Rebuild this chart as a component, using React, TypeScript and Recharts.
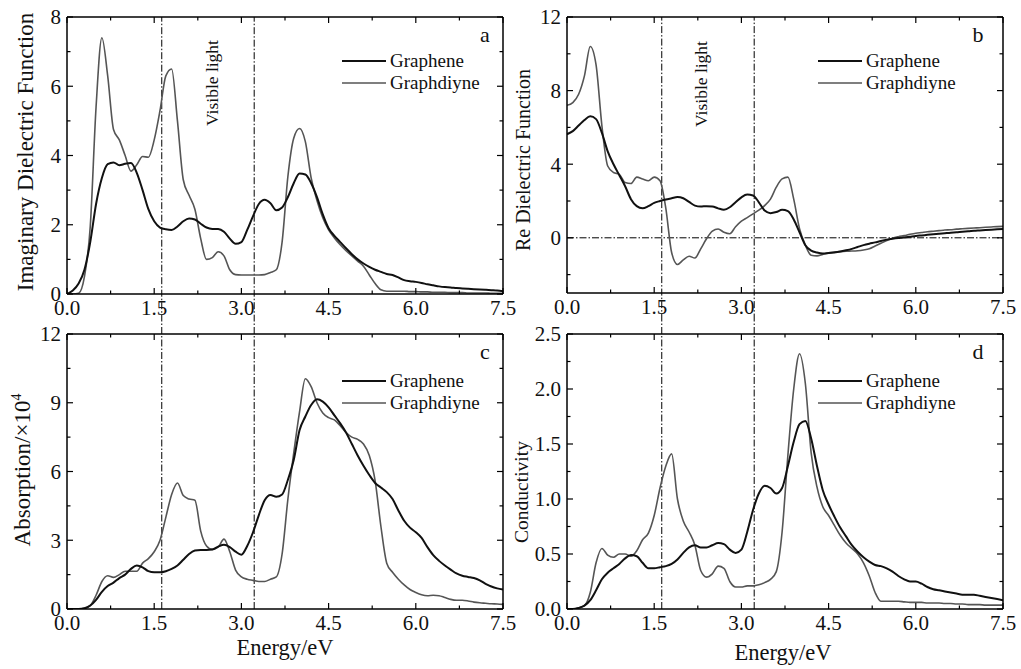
import { LineChart, Line, XAxis, YAxis, ReferenceLine } from "recharts";

const energy = [
  0, 0.1, 0.2, 0.3, 0.4, 0.5, 0.6, 0.7, 0.8, 0.9,
  1, 1.1, 1.2, 1.3, 1.4, 1.5, 1.6, 1.7, 1.8, 1.9,
  2, 2.1, 2.2, 2.3, 2.4, 2.5, 2.6, 2.7, 2.8, 2.9,
  3, 3.1, 3.2, 3.3, 3.4, 3.5, 3.6, 3.7, 3.8, 3.9,
  4, 4.1, 4.2, 4.3, 4.4, 4.5, 4.6, 4.7, 4.8, 4.9,
  5, 5.1, 5.2, 5.3, 5.4, 5.5, 5.6, 5.7, 5.8, 5.9,
  6, 6.1, 6.2, 6.3, 6.4, 6.5, 6.6, 6.7, 6.8, 6.9,
  7, 7.1, 7.2, 7.3, 7.4, 7.5,
];

// a: imaginary part of dielectric function
const imagGraphene = [
  0, 0.1, 0.3, 0.7, 1.5, 2.6, 3.35, 3.75, 3.8, 3.72,
  3.76, 3.78, 3.5, 3.0, 2.45, 2.1, 1.92, 1.87, 1.85, 1.95,
  2.1, 2.18, 2.15, 2.03, 1.92, 1.88, 1.88, 1.8, 1.6, 1.45,
  1.5, 1.85, 2.25, 2.6, 2.72, 2.62, 2.42, 2.5, 2.8, 3.2,
  3.48, 3.45, 3.2, 2.8, 2.3, 1.9, 1.68, 1.5, 1.32, 1.15,
  1.0, 0.88, 0.78, 0.7, 0.64, 0.58, 0.55, 0.48, 0.4, 0.37,
  0.35, 0.32, 0.28, 0.25, 0.22, 0.2, 0.19, 0.17, 0.16, 0.15,
  0.14, 0.13, 0.12, 0.11, 0.1, 0.08,
];
const imagGraphdiyne = [
  0, 0, 0.02, 0.5, 1.95, 5.4, 7.4, 6.3, 4.75, 4.45,
  4.0, 3.55, 3.73, 3.97, 3.95, 4.45, 5.3, 6.3, 6.5, 5.0,
  3.3, 2.85, 2.45, 1.6, 1.0, 1.05, 1.22, 1.1, 0.7, 0.56,
  0.55, 0.55, 0.55, 0.55, 0.56, 0.62, 0.7, 1.5, 3.4, 4.5,
  4.78, 4.4, 3.35, 2.7, 2.2, 1.85, 1.62, 1.42, 1.25, 1.1,
  0.95, 0.8, 0.55, 0.3, 0.12, 0.08, 0.08, 0.08, 0.08, 0.07,
  0.07, 0.06, 0.06, 0.05, 0.05, 0.05, 0.04, 0.04, 0.04, 0.03,
  0.03, 0.03, 0.03, 0.02, 0.02, 0.02,
];

// b: real part of dielectric function
const reGraphene = [
  5.63, 5.8, 6.1, 6.4, 6.6, 6.45, 5.7, 4.7, 4.0, 3.4,
  2.8, 2.1, 1.72, 1.6, 1.72, 1.9, 2.0, 2.08, 2.15, 2.22,
  2.15, 1.95, 1.75, 1.7, 1.72, 1.7, 1.6, 1.53, 1.66, 1.93,
  2.2, 2.35, 2.3, 1.93, 1.48, 1.34, 1.4, 1.52, 1.45, 1.0,
  0.3, -0.4, -0.7, -0.8, -0.85, -0.83, -0.8, -0.75, -0.68, -0.6,
  -0.5, -0.4, -0.32, -0.25, -0.17, -0.1, -0.05, -0.01, 0.02, 0.06,
  0.1, 0.13, 0.16, 0.19, 0.22, 0.25, 0.28, 0.3, 0.33, 0.35,
  0.38, 0.4, 0.42, 0.44, 0.46, 0.48,
];
const reGraphdiyne = [
  7.2, 7.35, 7.8, 8.8, 10.4, 9.4, 6.1, 3.9, 3.55, 3.45,
  3.0, 2.95, 3.3, 3.2, 3.1, 3.3, 3.1, 1.6, -0.8, -1.45,
  -1.2, -1.0, -1.1, -0.6, -0.05, 0.36, 0.48, 0.3, 0.22, 0.6,
  0.9, 1.1, 1.3, 1.5, 1.75, 2.1, 2.75, 3.2, 3.3, 2.1,
  0.5, -0.4, -0.95, -0.98, -0.9, -0.82, -0.78, -0.75, -0.73, -0.72,
  -0.7, -0.66, -0.6, -0.45, -0.3, -0.15, -0.02, 0.06, 0.12, 0.19,
  0.25, 0.29, 0.33, 0.36, 0.39, 0.42, 0.44, 0.47, 0.49, 0.51,
  0.53, 0.55, 0.57, 0.59, 0.61, 0.62,
];

// c: absorption (x10^4)
const absGraphene = [
  0, 0, 0, 0.03, 0.15, 0.4, 0.75, 1.0, 1.15, 1.35,
  1.5, 1.75, 1.9, 1.82, 1.65, 1.6, 1.6, 1.65, 1.75, 1.9,
  2.15, 2.4, 2.55, 2.58, 2.58, 2.6, 2.72, 2.8, 2.7, 2.5,
  2.37, 2.75, 3.35, 4.1, 4.75, 4.98, 4.9, 5.0, 5.64, 6.5,
  7.8, 8.4, 8.9, 9.15, 9.05, 8.8, 8.45, 8.1, 7.7, 7.2,
  6.7, 6.25, 5.85, 5.5, 5.3, 5.1, 4.8, 4.3, 3.85, 3.55,
  3.35, 3.1, 2.7, 2.35, 2.1, 1.9, 1.72, 1.55, 1.45, 1.4,
  1.35, 1.25, 1.1, 0.98, 0.9, 0.85,
];
const absGraphdiyne = [
  0, 0, 0, 0.03, 0.15, 0.6, 1.2, 1.45, 1.38, 1.5,
  1.65, 1.65, 1.65, 2.0, 2.2, 2.5, 3.0, 4.0, 5.0, 5.5,
  4.95, 4.8, 4.75, 3.4, 2.75, 2.6, 2.7, 3.05, 2.5, 1.7,
  1.4, 1.3, 1.25, 1.2, 1.2, 1.3, 1.4, 2.4, 4.8, 6.8,
  8.6, 10.05, 9.7, 9.0, 8.55, 8.35, 8.25, 8.0, 7.7, 7.5,
  7.4, 7.2, 6.7, 5.6, 3.6, 2.0, 1.6, 1.3, 1.05, 0.85,
  0.72, 0.62, 0.58, 0.6, 0.58, 0.5, 0.42, 0.38, 0.38, 0.35,
  0.3, 0.27, 0.25, 0.23, 0.22, 0.2,
];

// d: conductivity
const condGraphene = [
  0, 0, 0.01, 0.03, 0.08, 0.17, 0.27, 0.33, 0.37, 0.41,
  0.46, 0.49, 0.48, 0.42, 0.37, 0.37, 0.38, 0.39, 0.41, 0.45,
  0.51, 0.56, 0.58, 0.56, 0.56, 0.58, 0.6, 0.59, 0.54, 0.51,
  0.54, 0.7, 0.9, 1.05, 1.12, 1.1, 1.05, 1.1, 1.3, 1.52,
  1.68, 1.71, 1.55, 1.3, 1.08, 0.95, 0.84, 0.74, 0.66, 0.58,
  0.52, 0.47, 0.43, 0.4, 0.39, 0.37, 0.34, 0.3, 0.27, 0.25,
  0.25, 0.23, 0.2, 0.18, 0.17, 0.16, 0.15, 0.14, 0.13, 0.13,
  0.13, 0.12, 0.11, 0.1, 0.09, 0.08,
];
const condGraphdiyne = [
  0, 0, 0.01, 0.03, 0.15, 0.42, 0.55, 0.49, 0.47, 0.5,
  0.5, 0.48, 0.53, 0.63, 0.69, 0.85, 1.1, 1.3, 1.41, 1.0,
  0.8, 0.7, 0.58, 0.35, 0.29, 0.32, 0.39, 0.37, 0.25, 0.2,
  0.2, 0.21, 0.21, 0.22, 0.24, 0.27, 0.34, 0.7, 1.4, 2.0,
  2.32, 2.05, 1.42, 1.11, 0.93, 0.85, 0.76, 0.67, 0.6, 0.55,
  0.5, 0.42, 0.3, 0.15, 0.07, 0.07, 0.07, 0.07, 0.065, 0.06,
  0.06, 0.06, 0.055, 0.055, 0.055, 0.05, 0.05, 0.045, 0.045, 0.04,
  0.04, 0.04, 0.035, 0.035, 0.035, 0.035,
];

const xMajor = [0, 1.5, 3, 4.5, 6, 7.5];
const xMinor = [0.75, 2.25, 3.75, 5.25, 6.75];
const visibleLight = [1.63, 3.22];

const FONT = "Liberation Serif, Times New Roman, Times, serif";
const DASH_DOT = "7 2 1.5 2";

type Side = "bottom" | "top" | "left" | "right";

function makeTick(side: Side, majors: number[], fmt?: (v: number) => string) {
  return (props: any) => {
    const { x, y, payload } = props;
    const v = payload.value as number;
    const major = majors.some((m) => Math.abs(m - v) < 1e-9);
    const len = major ? 6 : 3.5;
    let line;
    if (side === "bottom") line = <line x1={x} y1={y} x2={x} y2={y - len} stroke="#000" strokeWidth={1.2} />;
    else if (side === "top") line = <line x1={x} y1={y} x2={x} y2={y + len} stroke="#000" strokeWidth={1.2} />;
    else if (side === "left") line = <line x1={x} y1={y} x2={x + len} y2={y} stroke="#000" strokeWidth={1.2} />;
    else line = <line x1={x} y1={y} x2={x - len} y2={y} stroke="#000" strokeWidth={1.2} />;
    return (
      <g>
        {line}
        {major && fmt && side === "bottom" && (
          <text x={x} y={y + 21} textAnchor="middle" fontSize={21} fontFamily={FONT} fill="#111">
            {fmt(v)}
          </text>
        )}
        {major && fmt && side === "left" && (
          <text x={x - 6} y={y} dy="0.35em" textAnchor="end" fontSize={21} fontFamily={FONT} fill="#111">
            {fmt(v)}
          </text>
        )}
      </g>
    );
  };
}

interface PanelProps {
  left: number;
  top: number;
  width: number;
  height: number;
  // plot-area insets inside the panel box
  inset: { top: number; right: number; bottom: number; left: number };
  graphene: number[];
  graphdiyne: number[];
  yDomain: [number, number];
  yMajor: number[];
  yMinor: number[];
  yFormat: (v: number) => string;
  refLow: number;
  refHigh: number;
  zeroLine?: boolean;
}

function Panel(p: PanelProps) {
  const data = energy.map((e, i) => ({ e, graphene: p.graphene[i], graphdiyne: p.graphdiyne[i] }));
  const xTicks = [...xMajor, ...xMinor].sort((a, b) => a - b);
  const yTicks = [...p.yMajor, ...p.yMinor].sort((a, b) => a - b);
  const frame = { stroke: "#000", strokeWidth: 1.5 };
  // axes are 1px thick (a zero-size axis is not drawn), so take that off the margins
  const margin = {
    top: p.inset.top - 1,
    right: p.inset.right - 1,
    bottom: p.inset.bottom - 1,
    left: p.inset.left - 1,
  };
  return (
    <div style={{ position: "absolute", left: p.left, top: p.top }}>
      <LineChart width={p.width} height={p.height} data={data} margin={margin}>
        <XAxis
          dataKey="e"
          type="number"
          domain={[0, 7.5]}
          allowDataOverflow
          ticks={xTicks}
          interval={0}
          height={1}
          tickSize={0}
          tickMargin={0}
          tickLine={false}
          axisLine={frame}
          tick={makeTick("bottom", xMajor, (v) => v.toFixed(1))}
        />
        <XAxis
          xAxisId="top"
          orientation="top"
          dataKey="e"
          type="number"
          domain={[0, 7.5]}
          allowDataOverflow
          ticks={xTicks}
          interval={0}
          height={1}
          tickSize={0}
          tickMargin={0}
          tickLine={false}
          axisLine={frame}
          tick={makeTick("top", xMajor)}
        />
        <YAxis
          type="number"
          domain={p.yDomain}
          allowDataOverflow
          ticks={yTicks}
          interval={0}
          width={1}
          tickSize={0}
          tickMargin={0}
          tickLine={false}
          axisLine={frame}
          tick={makeTick("left", p.yMajor, p.yFormat)}
        />
        <YAxis
          yAxisId="right"
          orientation="right"
          type="number"
          domain={p.yDomain}
          allowDataOverflow
          ticks={yTicks}
          interval={0}
          width={1}
          tickSize={0}
          tickMargin={0}
          tickLine={false}
          axisLine={frame}
          tick={makeTick("right", p.yMajor)}
        />
        {visibleLight.map((v) => (
          <ReferenceLine
            key={v}
            segment={[{ x: v, y: p.refLow }, { x: v, y: p.refHigh }]}
            ifOverflow="visible"
            stroke="#000"
            strokeWidth={1}
            strokeDasharray={DASH_DOT}
          />
        ))}
        {p.zeroLine && <ReferenceLine y={0} stroke="#000" strokeWidth={1} strokeDasharray={DASH_DOT} />}
        <Line
          type="monotone"
          dataKey="graphdiyne"
          stroke="#555"
          strokeWidth={1.6}
          dot={false}
          isAnimationActive={false}
        />
        <Line
          type="monotone"
          dataKey="graphene"
          stroke="#111"
          strokeWidth={2}
          dot={false}
          isAnimationActive={false}
        />
      </LineChart>
    </div>
  );
}

function Rotated({ x, y, size, children }: { x: number; y: number; size: number; children: any }) {
  return (
    <div
      style={{
        position: "absolute",
        left: x,
        top: y,
        transform: "translate(-50%, -50%) rotate(-90deg)",
        whiteSpace: "nowrap",
        fontSize: size,
        lineHeight: 1,
        color: "#111",
      }}
    >
      {children}
    </div>
  );
}

function Plain({ x, y, size, children }: { x: number; y: number; size: number; children: any }) {
  return (
    <div
      style={{
        position: "absolute",
        left: x,
        top: y,
        transform: "translate(-50%, -50%)",
        whiteSpace: "nowrap",
        fontSize: size,
        lineHeight: 1,
        color: "#111",
      }}
    >
      {children}
    </div>
  );
}

function LegendBox({ x, y }: { x: number; y: number }) {
  const rows = [
    { name: "Graphene", color: "#111", w: 2 },
    { name: "Graphdiyne", color: "#555", w: 1.6 },
  ];
  return (
    <div style={{ position: "absolute", left: x, top: y, fontSize: 19, color: "#111" }}>
      {rows.map((r) => (
        <div key={r.name} style={{ display: "flex", alignItems: "center", height: 22 }}>
          <svg width={44} height={10} style={{ marginRight: 4 }}>
            <line x1={0} y1={5} x2={44} y2={5} stroke={r.color} strokeWidth={r.w} />
          </svg>
          <span>{r.name}</span>
        </div>
      ))}
    </div>
  );
}

export default function App() {
  return (
    <div
      style={{
        position: "absolute",
        left: 0,
        top: 0,
        width: 1021,
        height: 669,
        background: "#fff",
        fontFamily: FONT,
        overflow: "hidden",
      }}
    >
      <Panel
        left={0}
        top={0}
        width={525}
        height={320}
        inset={{ top: 17, right: 22, bottom: 26, left: 67 }}
        graphene={imagGraphene}
        graphdiyne={imagGraphdiyne}
        yDomain={[0, 8]}
        yMajor={[0, 2, 4, 6, 8]}
        yMinor={[1, 3, 5, 7]}
        yFormat={(v) => String(v)}
        refLow={-0.8}
        refHigh={8}
      />
      <Panel
        left={510}
        top={0}
        width={511}
        height={320}
        inset={{ top: 17, right: 18, bottom: 27, left: 57 }}
        graphene={reGraphene}
        graphdiyne={reGraphdiyne}
        yDomain={[-3, 12]}
        yMajor={[0, 4, 8, 12]}
        yMinor={[-2, 2, 6, 10]}
        yFormat={(v) => String(v)}
        refLow={-4.5}
        refHigh={12}
        zeroLine
      />
      <Panel
        left={0}
        top={320}
        width={525}
        height={349}
        inset={{ top: 14, right: 22, bottom: 60, left: 67 }}
        graphene={absGraphene}
        graphdiyne={absGraphdiyne}
        yDomain={[0, 12]}
        yMajor={[0, 3, 6, 9, 12]}
        yMinor={[1.5, 4.5, 7.5, 10.5]}
        yFormat={(v) => String(v)}
        refLow={0}
        refHigh={12.65}
      />
      <Panel
        left={510}
        top={320}
        width={511}
        height={349}
        inset={{ top: 14, right: 18, bottom: 60, left: 57 }}
        graphene={condGraphene}
        graphdiyne={condGraphdiyne}
        yDomain={[0, 2.5]}
        yMajor={[0, 0.5, 1, 1.5, 2, 2.5]}
        yMinor={[0.25, 0.75, 1.25, 1.75, 2.25]}
        yFormat={(v) => v.toFixed(1)}
        refLow={0}
        refHigh={2.63}
      />

      <Rotated x={25} y={152} size={23}>Imaginary Dielectric Function</Rotated>
      <Rotated x={523} y={160} size={20}>Re Dielectric Function</Rotated>
      <Rotated x={22} y={470} size={23}>
        Absorption/×10<sup style={{ fontSize: "0.6em", verticalAlign: "0.7em" }}>4</sup>
      </Rotated>
      <Rotated x={522} y={492} size={19.5}>Conductivity</Rotated>

      <Rotated x={213} y={83} size={17.5}>Visible light</Rotated>
      <Rotated x={702} y={84} size={17.5}>Visible light</Rotated>

      <Plain x={485} y={35} size={22}>a</Plain>
      <Plain x={978} y={35} size={22}>b</Plain>
      <Plain x={485} y={352} size={22}>c</Plain>
      <Plain x={978} y={352} size={22}>d</Plain>

      <Plain x={285} y={648} size={22.5}>Energy/eV</Plain>
      <Plain x={783} y={653} size={22.5}>Energy/eV</Plain>

      <LegendBox x={342} y={50} />
      <LegendBox x={818} y={50} />
      <LegendBox x={342} y={370} />
      <LegendBox x={818} y={370} />
    </div>
  );
}
